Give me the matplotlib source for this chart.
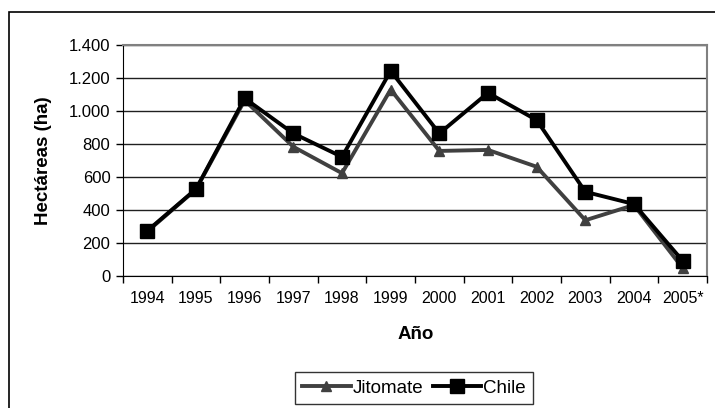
import numpy as np
import matplotlib
matplotlib.use("Agg")
from matplotlib import pyplot as plt
from matplotlib.patches import Rectangle

plt.rcParams['font.family'] = ['Liberation Sans', 'DejaVu Sans']

anios = ["1994", "1995", "1996", "1997", "1998", "1999", "2000",
         "2001", "2002", "2003", "2004", "2005*"]
jitomate = [270, 525, 1065, 783, 623, 1130, 758, 764, 662, 338, 430, 48]
chile = [274, 527, 1077, 864, 722, 1243, 864, 1110, 945, 510, 436, 92]

W, H = 715, 408
fig = plt.figure(figsize=(W / 100, H / 100), dpi=100)

# outer chart border (cut at right and bottom in the reference)
fig.patches.append(Rectangle((9 / W, -0.02), 1.0, 1 - 12 / H + 0.02,
                             transform=fig.transFigure, fill=False,
                             edgecolor="black", linewidth=1.2))

ax = fig.add_axes([123 / W, 1 - 276 / H, (707 - 123) / W, (276 - 45) / H])
x = np.arange(len(anios))

ax.plot(x, jitomate, color="#404040", linewidth=2.8, marker="^",
        markersize=7.5, label="Jitomate")
ax.plot(x, chile, color="black", linewidth=2.8, marker="s",
        markersize=9.5, label="Chile")

ax.set_xlim(-0.5, len(anios) - 0.5)
ax.set_ylim(0, 1400)
ax.set_yticks(np.arange(0, 1401, 200))
ax.set_yticklabels(["0", "200", "400", "600", "800", "1.000", "1.200", "1.400"])
ax.set_xticks(x)
ax.set_xticklabels(anios)
ax.set_xticks(np.arange(-0.5, len(anios), 1), minor=True)
ax.tick_params(axis="x", which="major", length=0, pad=11, labelsize=11.5)
ax.tick_params(axis="x", which="minor", length=5, width=1, direction="out")
ax.tick_params(axis="y", length=5, width=1, pad=4, labelsize=12)

ax.yaxis.grid(True, color="#202020", linewidth=1)
ax.set_axisbelow(True)
ax.spines["top"].set_color("#808080")
ax.spines["right"].set_color("#808080")
ax.spines["top"].set_linewidth(1.5)
ax.spines["right"].set_linewidth(1.5)

ax.set_ylabel("Hectáreas (ha)", fontsize=13.5, fontweight="bold")
ax.yaxis.set_label_coords(-0.122, 0.5)
ax.set_xlabel("Año", fontsize=13.5, fontweight="bold")
ax.xaxis.set_label_coords(0.502, -0.216)

leg = fig.legend(loc="center", bbox_to_anchor=(414 / W, 1 - 388 / H),
                 ncol=2, fontsize=13.5, frameon=True, fancybox=False,
                 handlelength=2.6, handletextpad=0.1, columnspacing=0.5,
                 borderpad=0.4, borderaxespad=0)
leg.get_frame().set_edgecolor("black")
leg.get_frame().set_linewidth(1)

fig.savefig("out.png", dpi=100)
